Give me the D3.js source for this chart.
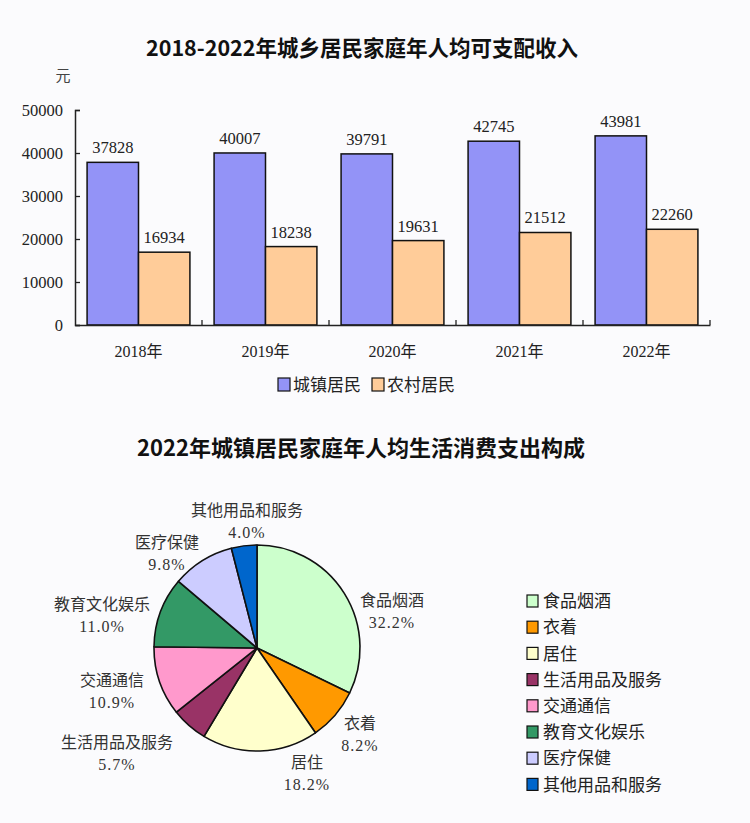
<!DOCTYPE html>
<html><head><meta charset="utf-8">
<script src="https://cdn.jsdelivr.net/npm/d3@7"></script>
<style>
html,body{margin:0;padding:0;background:#fbfbfd;}
svg{display:block;}
</style></head>
<body>
<svg id="chart" width="750" height="823"></svg>
<script>
// ---- Data ----
const years = ["2018年","2019年","2020年","2021年","2022年"];
const urbanIncome = [37828, 40007, 39791, 42745, 43981];
const ruralIncome = [16934, 18238, 19631, 21512, 22260];
const seriesNames = ["城镇居民","农村居民"];
const yTicks = [0, 10000, 20000, 30000, 40000, 50000];

const categories = ["食品烟酒","衣着","居住","生活用品及服务","交通通信","教育文化娱乐","医疗保健","其他用品和服务"];
const shares = [32.2, 8.2, 18.2, 5.7, 10.9, 11.0, 9.8, 4.0];
const pieColors = ["#ccffcc","#ff9900","#ffffcc","#993366","#ff99cc","#339966","#ccccff","#0066cc"];
const barColors = ["#9393f7","#ffcc99"];

const svg = d3.select("#chart");
const sansCJK = "'Noto Sans CJK SC','Noto Sans',sans-serif";
const serif = "'Liberation Serif','DejaVu Serif','Noto Sans CJK SC',serif";

// ---- Bar chart ----
svg.append("text").attr("x", 362).attr("y", 56).attr("text-anchor","middle")
  .attr("font-family", sansCJK).attr("font-weight","bold").attr("font-size", 21.5).attr("fill","#111")
  .text("2018-2022年城乡居民家庭年人均可支配收入");
svg.append("text").attr("x", 63).attr("y", 81).attr("text-anchor","middle")
  .attr("font-family", sansCJK).attr("font-size", 15).attr("fill","#444").text("元");

const pL = 75, pR = 710, pT = 110, pB = 325;
const x0 = d3.scaleBand().domain(years).range([pL, pR]).paddingInner(0).paddingOuter(0);
const x1 = d3.scaleBand().domain([0,1]).range([0, x0.bandwidth()]).paddingOuter(0.235).paddingInner(0);
const y = d3.scaleLinear().domain([0, 50000]).range([pB, pT]);

const yAxis = svg.append("g").attr("transform", `translate(${pL},0)`)
  .call(d3.axisRight(y).tickValues(yTicks).tickSize(5).tickFormat(""));
yAxis.select(".domain").attr("stroke","#222").attr("stroke-width",1.5);
yAxis.selectAll(".tick line").attr("stroke","#222").attr("stroke-width",1.3);

svg.append("g").selectAll("text").data(yTicks).join("text")
  .attr("x", 63).attr("y", d => y(d)).attr("dy","0.35em").attr("text-anchor","end")
  .attr("font-family", serif).attr("font-size", 16.5).attr("fill","#222").text(d => d);

const groups = svg.append("g").selectAll("g").data(years).join("g")
  .attr("transform", d => `translate(${x0(d)},0)`);
[urbanIncome, ruralIncome].forEach((arr, si) => {
  groups.append("rect")
    .attr("x", x1(si)).attr("width", x1.bandwidth())
    .attr("y", (d,i) => y(arr[i])).attr("height", (d,i) => y(0) - y(arr[i]))
    .attr("fill", barColors[si]).attr("stroke","#111").attr("stroke-width",1.5);
  groups.append("text")
    .attr("x", x1(si) + x1.bandwidth()/2).attr("y", (d,i) => y(arr[i]) - 9)
    .attr("text-anchor","middle").attr("font-family", serif).attr("font-size", 16.5).attr("fill","#222")
    .text((d,i) => arr[i]);
});

const xAxis = svg.append("g").attr("transform", `translate(0,${pB})`)
  .call(d3.axisTop(x0).tickSize(0).tickFormat(""));
xAxis.select(".domain").attr("stroke","#222").attr("stroke-width",1.5);
xAxis.selectAll(".tick").remove();
const xTickPos = years.slice(1).map(d => x0(d)).concat([pR]);
svg.append("g").selectAll("line").data(xTickPos).join("line")
  .attr("x1", d => d).attr("x2", d => d)
  .attr("y1", pB).attr("y2", pB - 5).attr("stroke","#222").attr("stroke-width",1.3);

svg.append("g").selectAll("text").data(years).join("text")
  .attr("x", d => x0(d) + x0.bandwidth()/2).attr("y", 357).attr("text-anchor","middle")
  .attr("font-family", serif).attr("font-size", 16).attr("fill","#222").text(d => d);

const legX = [278, 372];
seriesNames.forEach((n, i) => {
  svg.append("rect").attr("x", legX[i]).attr("y", 378).attr("width", 12).attr("height", 13)
    .attr("fill", barColors[i]).attr("stroke","#111").attr("stroke-width",1.2);
  svg.append("text").attr("x", legX[i] + 15).attr("y", 385).attr("dy","0.36em")
    .attr("font-family", sansCJK).attr("font-size", 17).attr("fill","#222").text(n);
});

// ---- Pie chart ----
svg.append("text").attr("x", 361).attr("y", 456).attr("text-anchor","middle")
  .attr("font-family", sansCJK).attr("font-weight","bold").attr("font-size", 22).attr("fill","#111")
  .text("2022年城镇居民家庭年人均生活消费支出构成");

const cx = 257, cy = 648, r = 103;
const pie = d3.pie().sort(null).value(d => d);
const arcs = pie(shares);
const arc = d3.arc().innerRadius(0).outerRadius(r);
const pg = svg.append("g").attr("transform", `translate(${cx},${cy})`);
pg.selectAll("path").data(arcs).join("path")
  .attr("d", arc).attr("fill", (d,i) => pieColors[i]).attr("stroke","#111").attr("stroke-width",1.6)
  .attr("stroke-linejoin","round");

// label positions relative to centre (name line centre)
const labelPos = [[135,-48],[103,75],[50,114],[-140,94],[-145,32],[-155,-44],[-90,-106],[-10,-138]];
const lg = svg.append("g").attr("transform", `translate(${cx},${cy})`);
arcs.forEach((a, i) => {
  const [lx, ly] = labelPos[i];
  lg.append("text").attr("x", lx).attr("y", ly).attr("dy","0.36em").attr("text-anchor","middle")
    .attr("font-family", sansCJK).attr("font-size", 16).attr("fill","#333").text(categories[i]);
  lg.append("text").attr("x", lx).attr("y", ly + 22).attr("dy","0.36em").attr("text-anchor","middle")
    .attr("font-family", serif).attr("font-size", 16).attr("letter-spacing", 1).attr("fill","#333")
    .text(shares[i].toFixed(1) + "%");
});

const legend = svg.append("g");
categories.forEach((c, i) => {
  const yy = 601 + i * 26.2;
  legend.append("rect").attr("x", 527).attr("y", yy - 6).attr("width", 11).attr("height", 12)
    .attr("fill", pieColors[i]).attr("stroke","#111").attr("stroke-width",1.2);
  legend.append("text").attr("x", 543).attr("y", yy).attr("dy","0.36em")
    .attr("font-family", sansCJK).attr("font-size", 17).attr("fill","#222").text(c);
});
</script>
</body></html>
